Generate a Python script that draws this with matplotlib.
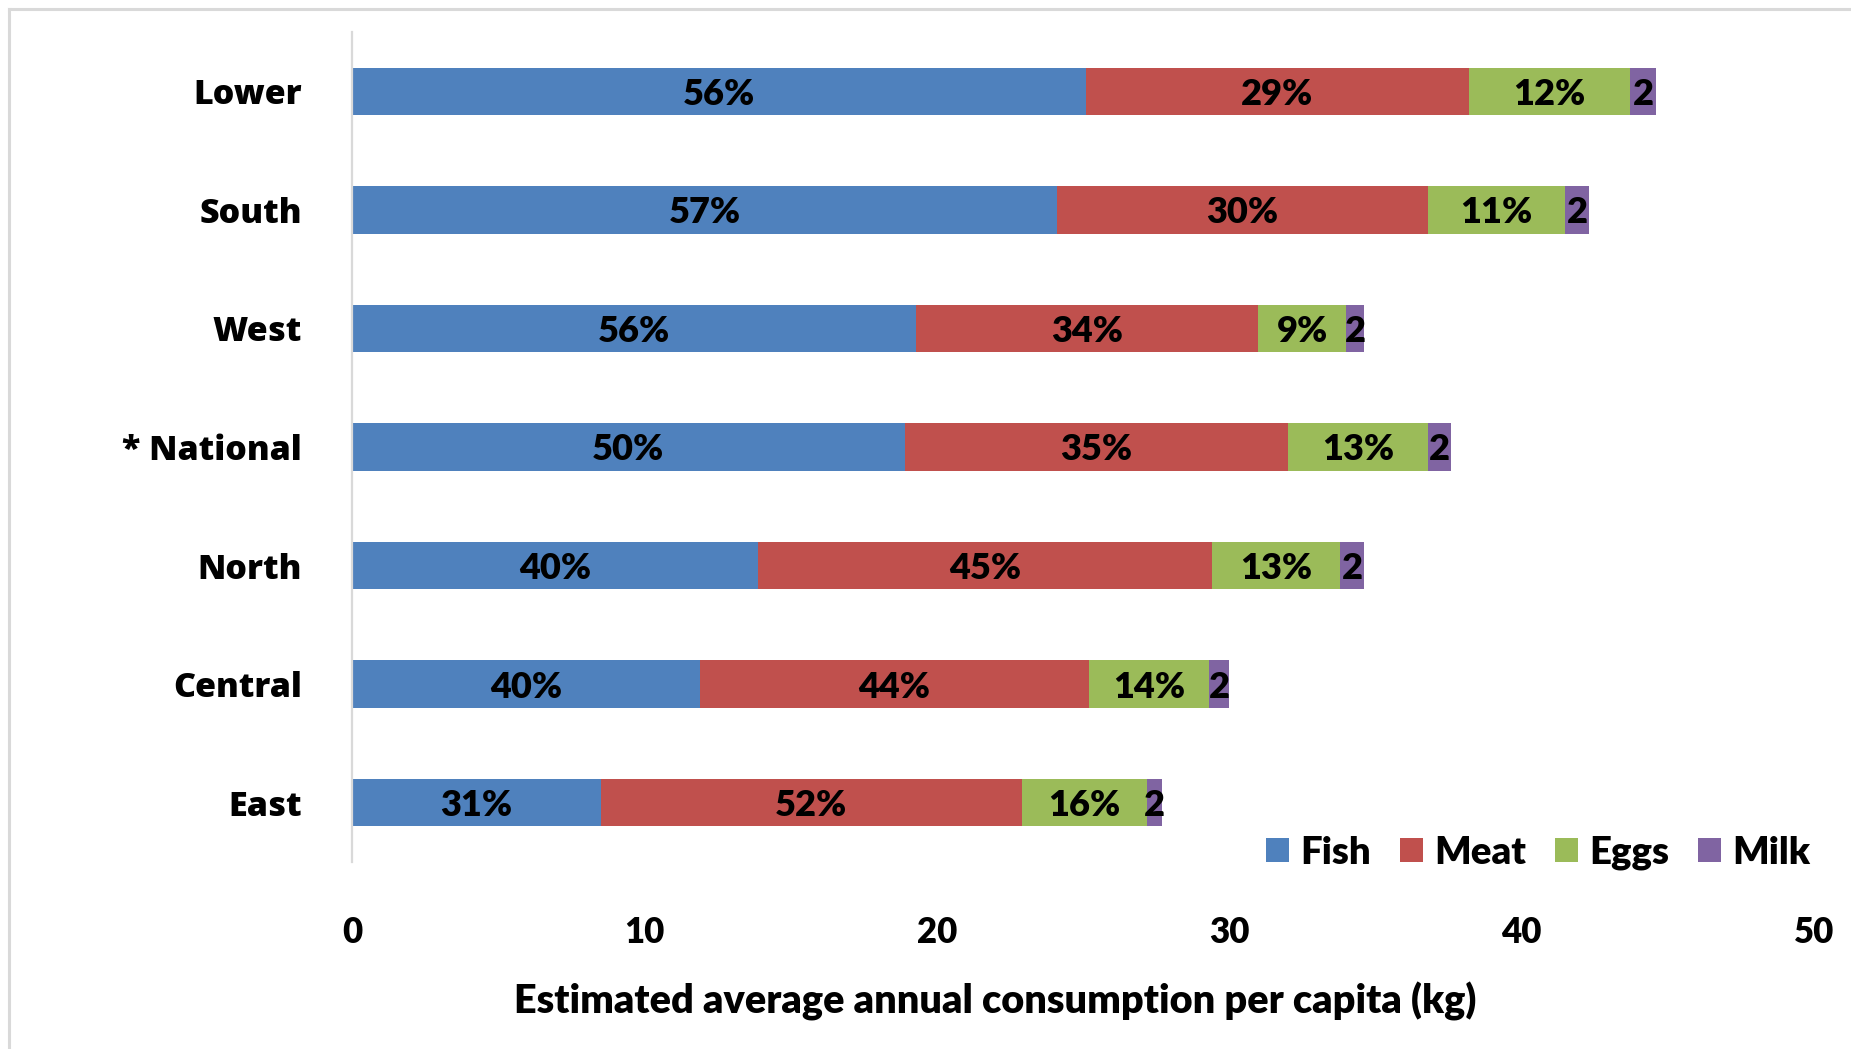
import matplotlib
matplotlib.use("Agg")
import matplotlib.pyplot as plt
from matplotlib.lines import Line2D

# Regions, listed top to bottom as they appear on the chart
regions = ["Lower", "South", "West", "* National", "North", "Central", "East"]

# Estimated annual consumption per capita (kg) by food group
fish = [25.1, 24.1, 19.3, 18.9, 13.9, 11.9, 8.5]
meat = [13.1, 12.7, 11.7, 13.1, 15.5, 13.3, 14.4]
eggs = [5.5, 4.7, 3.0, 4.8, 4.4, 4.1, 4.3]
milk = [0.9, 0.8, 0.6, 0.8, 0.8, 0.7, 0.5]

groups = ["Fish", "Meat", "Eggs", "Milk"]
colors = ["#4F81BD", "#C0504D", "#9BBB59", "#8064A2"]
x_ticks = [0, 10, 20, 30, 40, 50]

label_font = ["Lato", "DejaVu Sans"]
cat_font = ["Open Sans", "DejaVu Sans"]
heavy = "heavy"

fig = plt.figure(figsize=(18.51, 10.49), dpi=100)
ax = fig.add_axes([0.1902, 0.1783, 0.7898, 0.7912])

# Bottom-up positions so the first region sits at the top
ypos = list(range(len(regions)))[::-1]
totals = [f + m + e + k for f, m, e, k in zip(fish, meat, eggs, milk)]

left = [0.0] * len(regions)
for name, vals, col in zip(groups, [fish, meat, eggs, milk], colors):
    ax.barh(ypos, vals, left=left, height=0.4, color=col, label=name,
            edgecolor="none")
    for y, l, v, t in zip(ypos, left, vals, totals):
        pct = 100 * v / t
        txt = f"{pct:.0f}" if name == "Milk" else f"{pct:.0f}%"
        ax.text(l + v / 2, y, txt, ha="center", va="center_baseline",
                fontsize=26, fontweight=heavy, family=label_font)
    left = [a + b for a, b in zip(left, vals)]

ax.set_xlim(0, 50)
ax.set_ylim(-0.5, len(regions) - 0.5)
ax.set_xticks(x_ticks)
ax.set_xticklabels([str(t) for t in x_ticks], fontsize=25,
                   fontweight=heavy, family=label_font)
ax.set_yticks(ypos)
ax.set_yticklabels(regions, fontsize=24.5, fontweight=heavy, family=cat_font)
ax.tick_params(axis="x", length=0, pad=39)
ax.tick_params(axis="y", length=0, pad=36)

for side in ["top", "right", "bottom"]:
    ax.spines[side].set_visible(False)
ax.spines["left"].set_color("#D9D9D9")
ax.spines["left"].set_linewidth(1.6)

ax.set_xlabel("Estimated average annual consumption per capita (kg)",
              fontsize=28.5, fontweight=heavy, family=label_font)
ax.xaxis.set_label_coords(0.44, -0.145)

ax.legend(loc="center right", bbox_to_anchor=(1810 / 1851, 1 - 853 / 1049),
          bbox_transform=fig.transFigure, ncol=4, frameon=False,
          handlelength=0.6, handleheight=0.6, handletextpad=0.3,
          columnspacing=0.75, borderpad=0, borderaxespad=0,
          prop={"family": label_font, "weight": heavy, "size": 27.5})

# light outer frame along the top and left edges
frame_kw = dict(color="#D9D9D9", linewidth=2.2, transform=fig.transFigure)
fig.add_artist(Line2D([0.00486, 0.00486], [0, 0.9914], **frame_kw))
fig.add_artist(Line2D([0.00486, 1], [0.9914, 0.9914], **frame_kw))

fig.savefig("out.png", dpi=100, facecolor="white")
